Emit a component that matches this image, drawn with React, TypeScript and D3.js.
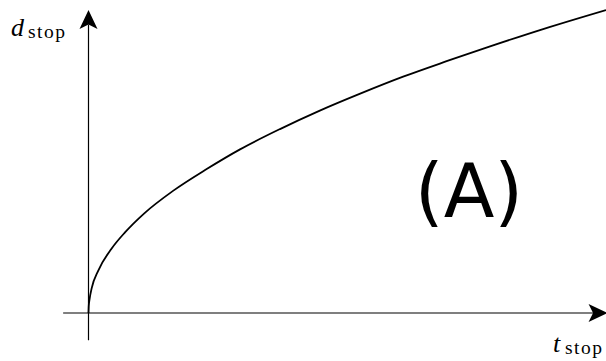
import React from "react";
import * as d3 from "d3";

// Stopping distance against stopping time, sampled along the curve
const tStop = [0, 0.05, 0.2, 0.62, 1.89, 4.48, 7.05, 10.78, 16.33, 22.84, 29.28, 37.0, 44.7, 52.5, 60.8, 69.2, 77.6, 88.0, 100];
const dStop = [0, 0.24, 0.45, 0.82, 1.4, 2.13, 2.66, 3.29, 4.03, 4.75, 5.4, 6.07, 6.68, 7.24, 7.8, 8.31, 8.8, 9.38, 10];

const panelLabel = "(A)";
const yLabelMain = "d";
const xLabelMain = "t";
const subLabel = "stop";

const W = 606;
const H = 361;
const serif = "'Liberation Serif', 'Times New Roman', serif";

export default function App() {
  const x = d3.scaleLinear().domain([0, 100]).range([88.5, 606]);
  const y = d3.scaleLinear().domain([0, 10]).range([313, 10]);

  const line = d3
    .line<number>()
    .x((_, i) => x(tStop[i]))
    .y((d) => y(d))
    .curve(d3.curveMonotoneX);

  const x0 = x(0);
  const y0 = y(0);

  // axis extents in data units
  const xAxisStart = x(-4.9);
  const xAxisTip = x(100.3);
  const yAxisStart = y(-0.9);
  const yAxisTip = y(10);

  const L = 19; // arrowhead length
  const A = 9; // arrowhead half-width
  const N = 4.5; // notch depth

  const yArrow = `M${x0},${yAxisTip} L${x0 + A},${yAxisTip + L} L${x0},${yAxisTip + L - N} L${x0 - A},${yAxisTip + L} Z`;
  const xArrow = `M${xAxisTip},${y0} L${xAxisTip - L},${y0 - A} L${xAxisTip - L + N},${y0} L${xAxisTip - L},${y0 + A} Z`;

  return (
    <svg
      width={W}
      height={H}
      viewBox={`0 0 ${W} ${H}`}
      style={{ position: "absolute", left: 0, top: 0, background: "#fff" }}
    >
      <rect x={0} y={0} width={W} height={H} fill="#fff" />
      {/* axes */}
      <line x1={x0} y1={yAxisStart} x2={x0} y2={yAxisTip + L - N} stroke="#000" strokeWidth={1.2} />
      <line x1={xAxisStart} y1={y0} x2={xAxisTip - L + N} y2={y0} stroke="#000" strokeWidth={1.2} />
      <path d={yArrow} fill="#000" />
      <path d={xArrow} fill="#000" />

      {/* curve */}
      <path d={line(dStop) ?? ""} fill="none" stroke="#000" strokeWidth={1.8} />

      {/* axis labels */}
      <text x={11} y={35.5} fontFamily={serif} fontStyle="italic" fontSize={26} fill="#000">
        {yLabelMain}
      </text>
      <text x={28} y={37.5} fontFamily={serif} fontSize={19.5} fill="#000" textLength={37} lengthAdjust="spacing">
        {subLabel}
      </text>
      <text x={553} y={351.5} fontFamily={serif} fontStyle="italic" fontSize={26} fill="#000">
        {xLabelMain}
      </text>
      <text x={565} y={354} fontFamily={serif} fontSize={19.5} fill="#000" textLength={37} lengthAdjust="spacing">
        {subLabel}
      </text>

      {/* panel tag */}
      <text
        x={469}
        y={217}
        textAnchor="middle"
        fontFamily="'DejaVu Sans', sans-serif"
        fontSize={74}
        fill="#000"
      >
        {panelLabel}
      </text>
    </svg>
  );
}
